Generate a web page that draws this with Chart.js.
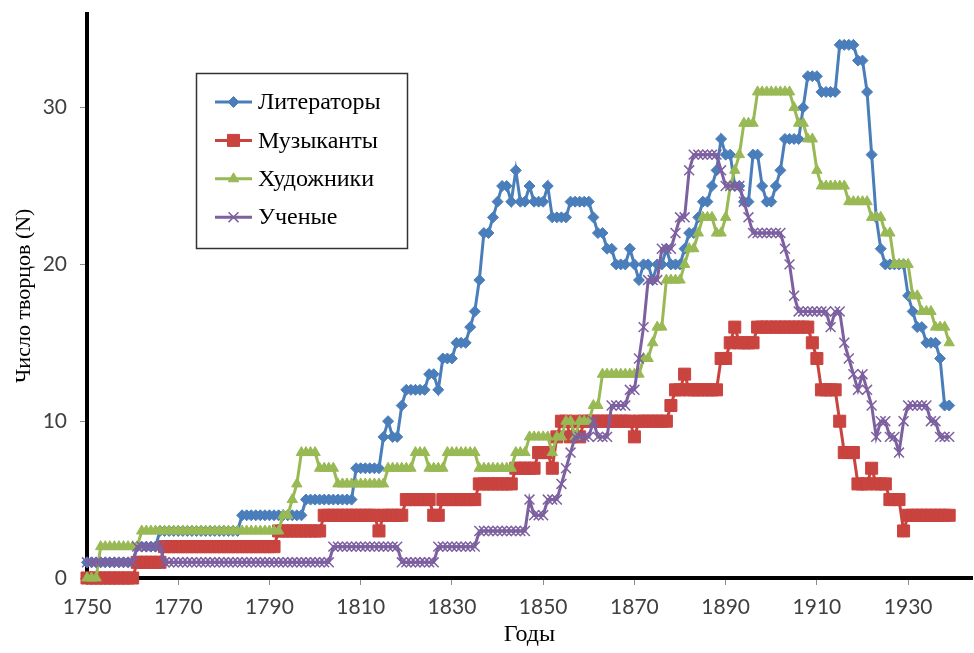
<!DOCTYPE html>
<html>
<head>
<meta charset="utf-8">
<script src="https://cdn.jsdelivr.net/npm/chart.js@4.4.0/dist/chart.umd.min.js"></script>
<style>
  html, body { margin: 0; padding: 0; background: #ffffff; }
  #wrap { width: 974px; height: 653px; }
</style>
</head>
<body>
<div id="wrap"><canvas id="c" width="974" height="653"></canvas></div>
<script>
// ---------- DATA ----------
const firstYear = 1750;
const yearCount = 190; // 1750 ... 1939
const years = Array.from({ length: yearCount }, (_, i) => firstYear + i);

const seriesNames = ['Литераторы', 'Музыканты', 'Художники', 'Ученые'];

// Литераторы
const writers = [
  1,1,1,1,1,1,1,1,1,1,
  1,2,2,2,2,2,3,3,3,3,
  3,3,3,3,3,3,3,3,3,3,
  3,3,3,3,4,4,4,4,4,4,
  4,4,4,4,4,4,4,4,5,5,
  5,5,5,5,5,5,5,5,5,7,
  7,7,7,7,7,9,10,9,9,11,
  12,12,12,12,12,13,13,12,14,14,
  14,15,15,15,16,17,19,22,22,23,
  24,25,25,24,26,24,24,25,24,24,
  24,25,23,23,23,23,24,24,24,24,
  24,23,22,22,21,21,20,20,20,21,
  20,19,20,20,19,20,20,21,20,20,
  20,21,22,22,23,24,24,25,26,28,
  27,27,25,25,24,24,27,27,25,24,
  24,25,26,28,28,28,28,30,32,32,
  32,31,31,31,31,34,34,34,34,33,
  33,31,27,23,21,20,20,20,20,20,
  18,17,16,16,15,15,15,14,11,11
];

// Музыканты
const musicians = [
  0,0,0,0,0,0,0,0,0,0,
  0,1,1,1,1,1,1,2,2,2,
  2,2,2,2,2,2,2,2,2,2,
  2,2,2,2,2,2,2,2,2,2,
  2,2,3,3,3,3,3,3,3,3,
  3,3,4,4,4,4,4,4,4,4,
  4,4,4,4,3,4,4,4,4,4,
  5,5,5,5,5,5,4,4,5,5,
  5,5,5,5,5,5,6,6,6,6,
  6,6,6,6,7,7,7,7,7,8,
  8,8,7,9,10,10,9,10,9,10,
  10,10,10,10,10,10,10,10,10,10,
  9,10,10,10,10,10,10,10,11,12,
  12,13,12,12,12,12,12,12,12,14,
  14,15,16,15,15,15,15,16,16,16,
  16,16,16,16,16,16,16,16,16,15,
  14,12,12,12,12,10,8,8,8,6,
  6,6,7,6,6,6,5,5,5,3,
  4,4,4,4,4,4,4,4,4,4
];

// Художники
const artists = [
  0,0,0,2,2,2,2,2,2,2,
  2,2,3,3,3,3,3,3,3,3,
  3,3,3,3,3,3,3,3,3,3,
  3,3,3,3,3,3,3,3,3,3,
  3,3,3,4,4,5,6,8,8,8,
  8,7,7,7,7,6,6,6,6,6,
  6,6,6,6,6,6,7,7,7,7,
  7,7,8,8,8,7,7,7,7,8,
  8,8,8,8,8,8,7,7,7,7,
  7,7,7,7,8,8,8,9,9,9,
  9,9,8,9,9,10,10,9,10,10,
  10,11,11,13,13,13,13,13,13,13,
  13,13,14,14,15,16,16,19,19,19,
  19,20,21,21,22,23,23,23,22,22,
  23,25,26,27,29,29,29,31,31,31,
  31,31,31,31,31,30,29,29,28,28,
  26,25,25,25,25,25,25,24,24,24,
  24,24,23,23,23,22,22,20,20,20,
  20,18,18,17,17,17,16,16,16,15
];

// Ученые
const scientists = [
  1,1,1,1,1,1,1,1,1,1,
  1,2,2,2,2,2,2,1,1,1,
  1,1,1,1,1,1,1,1,1,1,
  1,1,1,1,1,1,1,1,1,1,
  1,1,1,1,1,1,1,1,1,1,
  1,1,1,1,2,2,2,2,2,2,
  2,2,2,2,2,2,2,2,2,1,
  1,1,1,1,1,1,1,2,2,2,
  2,2,2,2,2,2,3,3,3,3,
  3,3,3,3,3,3,3,5,4,4,
  4,5,5,5,6,7,8,9,9,9,
  9,10,9,9,9,11,11,11,11,12,
  12,14,16,19,19,19,21,21,21,22,
  23,23,26,27,27,27,27,27,27,26,
  25,25,25,25,24,23,22,22,22,22,
  22,22,22,21,20,18,17,17,17,17,
  17,17,17,16,17,17,15,14,13,12,
  13,12,11,9,10,10,9,9,8,10,
  11,11,11,11,11,10,10,9,9,9
];

const xTickValues = [1750, 1770, 1790, 1810, 1830, 1850, 1870, 1890, 1910, 1930];
const yTickValues = [0, 10, 20, 30];
const xAxisTitle = 'Годы';
const yAxisTitle = 'Число творцов (N)';

// ---------- LEGEND (boxed, inside plot) ----------
const boxLegend = {
  id: 'boxLegend',
  afterDraw(chart) {
    const ctx = chart.ctx;
    const bx = 196, by = 73, bw = 212, bh = 176;
    ctx.save();
    ctx.fillStyle = '#ffffff';
    ctx.fillRect(bx, by, bw, bh);
    ctx.strokeStyle = '#333333';
    ctx.lineWidth = 1.5;
    ctx.strokeRect(bx + 0.5, by + 0.5, bw - 1, bh - 1);
    chart.data.datasets.forEach((ds, i) => {
      const y = 102 + i * 38.4;
      ctx.strokeStyle = ds.borderColor;
      ctx.lineWidth = 3;
      ctx.beginPath();
      ctx.moveTo(215, y);
      ctx.lineTo(252, y);
      ctx.stroke();
      ctx.fillStyle = ds.pointBackgroundColor;
      ctx.strokeStyle = ds.pointBorderColor;
      ctx.lineWidth = ds.pointBorderWidth;
      Chart.helpers.drawPoint(ctx, {
        pointStyle: ds.pointStyle, radius: ds.pointRadius,
        rotation: 0, borderWidth: ds.pointBorderWidth
      }, 233.5, y);
      ctx.fillStyle = '#000000';
      ctx.font = '24px "Liberation Serif", "Times New Roman", serif';
      ctx.textAlign = 'left';
      ctx.textBaseline = 'middle';
      ctx.fillText(ds.label, 258, y + 1);
    });
    ctx.restore();
  }
};

function makeSet(label, values, color, style, radius, bw, order) {
  return {
    label: label,
    data: values,
    borderColor: color,
    backgroundColor: color,
    borderWidth: 3,
    pointStyle: style,
    pointRadius: radius,
    pointBackgroundColor: color,
    pointBorderColor: color,
    pointBorderWidth: bw,
    pointHoverRadius: radius,
    tension: 0,
    fill: false,
    clip: false,
    order: order
  };
}

new Chart(document.getElementById('c'), {
  type: 'line',
  data: {
    labels: years,
    datasets: [
      makeSet(seriesNames[0], writers,    '#4A7EBB', 'rectRot',  5.5, 1, 4),
      makeSet(seriesNames[1], musicians,  '#C9433F', 'rect',     8.5, 1, 3),
      makeSet(seriesNames[2], artists,    '#98B954', 'triangle', 6,   1, 2),
      makeSet(seriesNames[3], scientists, '#7D60A0', 'crossRot', 7,   1.5, 1)
    ]
  },
  options: {
    responsive: false,
    animation: false,
    layout: { autoPadding: false, padding: { top: 13.5, right: 2, left: 0, bottom: 0 } },
    plugins: {
      legend: { display: false },
      tooltip: { enabled: false }
    },
    scales: {
      x: {
        type: 'linear',
        min: 1750,
        max: 1944,
        afterBuildTicks: s => { s.ticks = xTickValues.map(v => ({ value: v })); },
        afterFit: s => { s.height = 75; s.paddingLeft = 0; s.paddingRight = 0; },
        grid: { drawOnChartArea: false, drawTicks: true, tickLength: 7, color: '#8c8c8c', lineWidth: 1 },
        border: { display: true, color: '#000000', width: 4 },
        ticks: {
          color: '#404040',
          font: { family: 'Lato', size: 21 },
          padding: 10,
          maxRotation: 0,
          autoSkip: false,
          callback: v => String(v)
        },
        title: {
          display: true,
          text: xAxisTitle,
          color: '#000000',
          font: { family: '"Liberation Serif"', size: 24 },
          padding: { top: 0, bottom: 4 }
        }
      },
      y: {
        min: 0,
        max: 36,
        afterBuildTicks: s => { s.ticks = yTickValues.map(v => ({ value: v })); },
        afterFit: s => { s.width = 87; s.paddingTop = 0; s.paddingBottom = 0; },
        grid: { drawOnChartArea: false, drawTicks: true, tickLength: 7, color: '#8c8c8c', lineWidth: 1 },
        border: { display: true, color: '#000000', width: 4 },
        ticks: {
          color: '#404040',
          font: { family: 'Lato', size: 21 },
          padding: 13
        },
        title: {
          display: true,
          text: yAxisTitle,
          color: '#000000',
          font: { family: '"Liberation Serif"', size: 22 },
          padding: { top: 11, bottom: 0 }
        }
      }
    }
  },
  plugins: [boxLegend]
});
</script>
</body>
</html>
